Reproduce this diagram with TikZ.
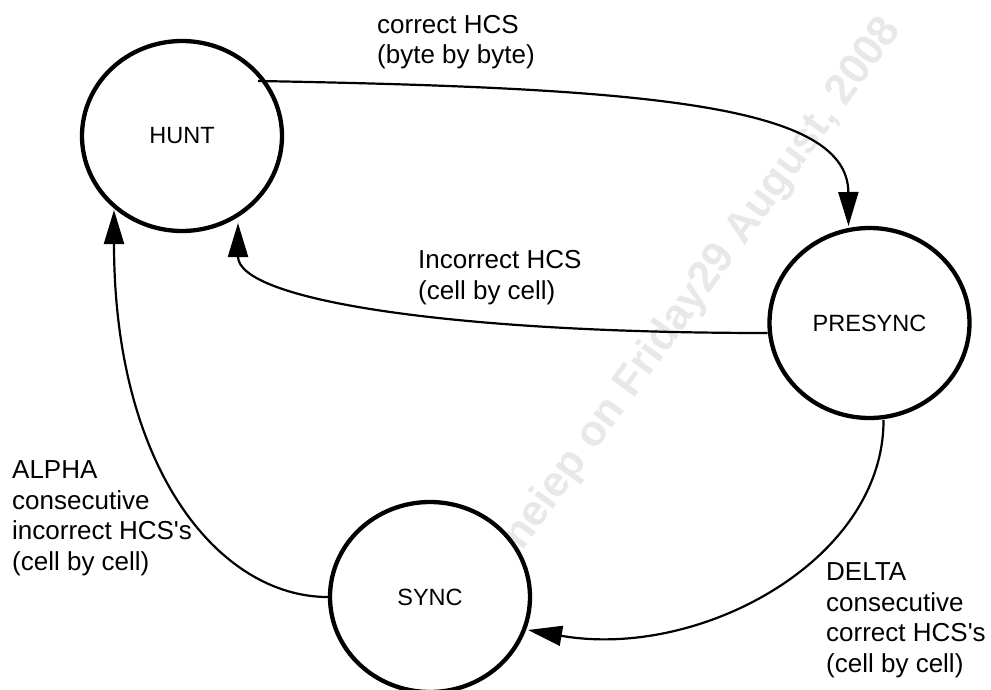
\documentclass[tikz,border=0pt]{standalone}
\usepackage{fontspec}
\setmainfont{Liberation Sans}[Ligatures=TeXOff]
\usetikzlibrary{arrows.meta,calc,shapes.geometric}
\begin{document}
\begin{tikzpicture}[x=1pt,y=-1pt,
  state/.style={draw, ellipse, line width=4.3pt, fill=white,
    minimum width=200pt, minimum height=190pt, inner sep=0pt,
    font=\fontsize{23.5}{28}\selectfont},
  edge/.style={line width=2.2pt, -{Triangle[length=34pt,width=20pt]}},
  lab/.style={anchor=base west, align=left, inner sep=0pt,
    font=\fontsize{26}{30.5}\selectfont},
  wmark/.style={anchor=base west, inner sep=0pt, text=black!9,
    font=\fontsize{43}{50}\selectfont\bfseries}]
\useasboundingbox (0,0) rectangle (991,690);
% watermark
\node[wmark, rotate=54] (wm) at (522,552) {neiep on Friday29 August, 2008};
% states
\node[state] (hunt) at (182,136) {HUNT};
\node[state] (presync) at (869.5,323) {PRESYNC};
\node[state] (sync) at (430,597) {SYNC};
% transitions
\draw[edge] ($(hunt.center)+(76,-55)$) .. controls (650,88) and (848,105) .. ($(presync.center)+(-21,-97)$);
\draw[edge] ($(presync.center)+(-102,10)$) .. controls (450,333) and (238,300) .. ($(hunt.center)+(56,87)$);
\draw[edge] (sync.west) .. controls (220,597) and (114,470) .. ($(hunt.center)+(-68,74)$);
\draw[edge] ($(presync.center)+(14,97)$) .. controls (884,560) and (700,660) .. ($(sync.center)+(98,33)$);
% labels (anchor = baseline of the last line)
\node[lab] (l1) at (377,64) {correct HCS\\(byte by byte)};
\node[lab] (l2) at (418,299) {Incorrect HCS\\(cell by cell)};
\node[lab] (l3) at (12,570) {ALPHA\\consecutive\\incorrect HCS's\\(cell by cell)};
\node[lab] (l4) at (826,672) {DELTA\\consecutive\\correct HCS's\\(cell by cell)};
\end{tikzpicture}
\end{document}
